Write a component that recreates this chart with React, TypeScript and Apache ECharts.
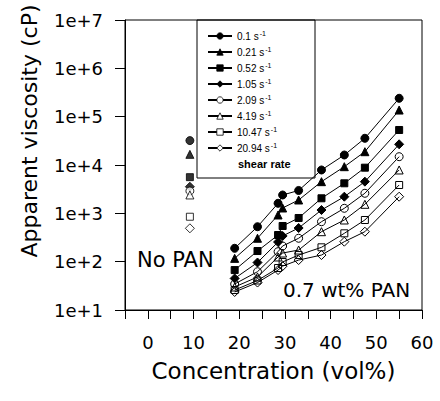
import React, { useEffect, useRef } from "react";
import * as echarts from "echarts";

// Concentration (vol%) of the 0.7 wt% PAN samples
const concentrations = [19, 24, 28.5, 29.5, 33, 38, 43, 47.5, 55];
// Concentration of the "No PAN" sample
const noPanConcentration = 9.2;

// Shear rates (s^-1)
const shearRates = ["0.1", "0.21", "0.52", "1.05", "2.09", "4.19", "10.47", "20.94"];

// Apparent viscosity (cP) per shear rate, 0.7 wt% PAN
const v0_1 = [189, 529, 1614, 2395, 2970, 7890, 16100, 35700, 240000];
const v0_21 = [117, 305, 925, 1290, 1888, 4520, 9230, 18850, 137000];
const v0_52 = [67, 166, 356, 547, 801, 2047, 4185, 8800, 53000];
const v1_05 = [45, 96, 255, 340, 497, 1172, 2210, 4520, 26800];
const v2_09 = [34.5, 62, 161, 211, 305, 671, 1271, 2600, 14860];
const v4_19 = [29.9, 48.2, 125, 151, 174, 417, 728, 1538, 7890];
const v10_47 = [25.9, 40.8, 74, 98.5, 137, 198, 386, 728, 3857];
const v20_94 = [23.6, 37, 67, 81, 108, 137, 259, 417, 2210];

// Apparent viscosity (cP) per shear rate, No PAN
const noPan = [32000, 16600, 5600, 3550, 2900, 2400, 850, 490];

const xTicks = [0, 10, 20, 30, 40, 50, 60];

const seriesValues = [v0_1, v0_21, v0_52, v1_05, v2_09, v4_19, v10_47, v20_94];
const symbols = ["circle", "triangle", "rect", "diamond", "circle", "triangle", "rect", "diamond"];
const filled = [true, true, true, true, false, false, false, false];
const symbolSizes = [8, 8, 7, 9, 8, 8, 7, 9];

export default function App() {
  const ref = useRef<HTMLDivElement>(null);

  useEffect(() => {
    document.body.style.margin = "0";
    if (!ref.current) return;
    const chart = echarts.init(ref.current, null, { renderer: "svg" });

    const lineSeries: any[] = shearRates.map((name, i) => ({
      name,
      type: "line",
      data: concentrations.map((c, j) => [c, seriesValues[i][j]]),
      symbol: symbols[i],
      symbolSize: symbolSizes[i],
      showAllSymbol: true,
      lineStyle: { color: "#000", width: 1 },
      itemStyle: {
        color: filled[i] ? "#000" : "transparent",
        borderColor: "#000",
        borderWidth: 1,
      },
      z: 3,
    }));

    const scatterSeries: any[] = shearRates.map((name, i) => ({
      name,
      type: "scatter",
      data: [[noPanConcentration, noPan[i]]],
      symbol: symbols[i],
      symbolSize: symbolSizes[i],
      itemStyle: {
        color: filled[i] ? "#000" : "#fff",
        borderColor: "#000",
        borderWidth: 1,
      },
      z: 3,
    }));

    const font = "DejaVu Sans";

    chart.setOption({
      animation: false,
      backgroundColor: "#fff",
      grid: {
        left: 125,
        right: 18,
        top: 20,
        bottom: 91,
        show: true,
        borderColor: "#000",
        borderWidth: 1,
      },
      xAxis: {
        type: "value",
        min: -5,
        max: 60,
        interval: 5,
        axisLine: { onZero: false, lineStyle: { color: "#000", width: 1 } },
        axisTick: { show: true, inside: false, length: 9, lineStyle: { color: "#000" } },
        splitLine: { show: false },
        axisLabel: {
          color: "#000",
          fontFamily: font,
          fontSize: 18,
          margin: 23,
          formatter: (v: number) => (xTicks.indexOf(v) >= 0 ? String(v) : ""),
        },
        name: "Concentration (vol%)",
        nameLocation: "middle",
        nameGap: 49,
        nameTextStyle: { color: "#000", fontFamily: font, fontSize: 23 },
      },
      yAxis: {
        type: "log",
        logBase: 10,
        min: 10,
        max: 10000000,
        interval: 1,
        axisLine: { onZero: false, lineStyle: { color: "#000", width: 1 } },
        axisTick: { show: true, inside: false, length: 10, lineStyle: { color: "#000" } },
        minorTick: { show: false },
        splitLine: { show: false },
        axisLabel: {
          color: "#000",
          fontFamily: font,
          fontSize: 18,
          margin: 22,
          formatter: (v: number) => "1e+" + Math.round(Math.log10(v)),
        },
      },
      legend: {
        data: shearRates.map((name, i) => ({
          name,
          itemStyle: {
            color: filled[i] ? "#000" : "#fff",
            borderColor: "#000",
            borderWidth: 0.8,
          },
        })),
        orient: "vertical",
        left: 207,
        top: 30,
        padding: 0,
        itemWidth: 24,
        itemHeight: 8,
        itemGap: 5,
        textStyle: {
          color: "#000",
          fontFamily: "Liberation Sans",
          fontSize: 10,
          rich: {
            t: { fontFamily: "Liberation Sans", fontSize: 10, color: "#000", lineHeight: 12 },
            s: { fontFamily: "Liberation Sans", fontSize: 7, color: "#000", lineHeight: 12, verticalAlign: "top", padding: [0, 0, 4, 1] },
          },
        },
        formatter: (name: string) => `{t|${name} s}{s|-1}`,
      },
      graphic: [
        {
          type: "rect",
          shape: { x: 197, y: 20, width: 118, height: 158 },
          style: { fill: "transparent", stroke: "#000", lineWidth: 1 },
          z: 5,
        },
        {
          type: "text",
          x: 238,
          y: 164,
          style: {
            text: "shear rate",
            font: "bold 11px 'Liberation Sans'",
            fill: "#000",
            verticalAlign: "middle",
          },
        },
        {
          type: "text",
          x: 137,
          y: 260,
          style: {
            text: "No PAN",
            font: "21px 'DejaVu Sans'",
            fill: "#000",
            verticalAlign: "middle",
          },
        },
        {
          type: "text",
          x: 283,
          y: 290,
          style: {
            text: "0.7 wt% PAN",
            font: "20px 'DejaVu Sans'",
            fill: "#000",
            verticalAlign: "middle",
          },
        },
        {
          type: "text",
          x: 29,
          y: 131,
          rotation: Math.PI / 2,
          style: {
            text: "Apparent viscosity (cP)",
            font: "22px 'DejaVu Sans'",
            fill: "#000",
            align: "center",
            verticalAlign: "middle",
          },
        },
      ],
      series: [...lineSeries, ...scatterSeries],
    });

    return () => chart.dispose();
  }, []);

  return <div ref={ref} style={{ width: 440, height: 401 }} />;
}
